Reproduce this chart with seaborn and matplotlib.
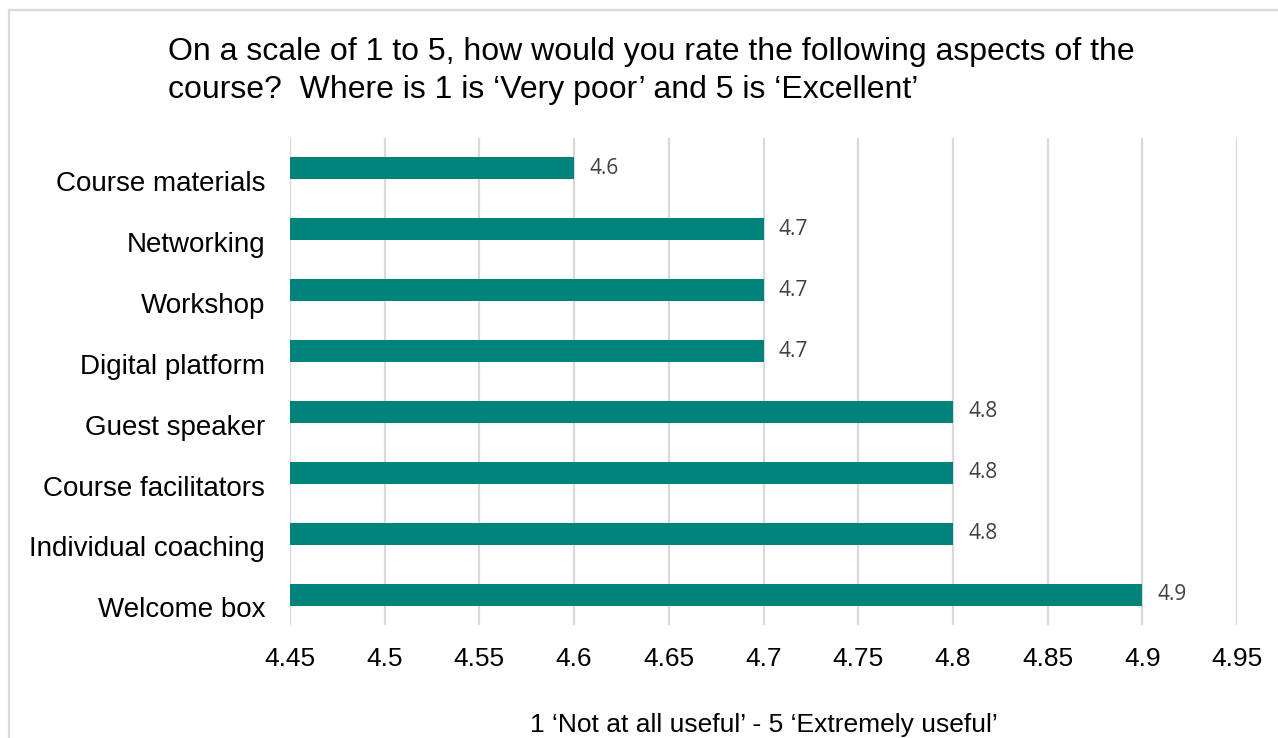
import matplotlib
matplotlib.use("Agg")
import matplotlib.pyplot as plt
import matplotlib.patches as mpatches
import seaborn as sns
import pandas as pd

# Survey ratings per course aspect
aspects = ["Course materials", "Networking", "Workshop", "Digital platform",
           "Guest speaker", "Course facilitators", "Individual coaching", "Welcome box"]
ratings = [4.6, 4.7, 4.7, 4.7, 4.8, 4.8, 4.8, 4.9]
x_ticks = [4.45, 4.5, 4.55, 4.6, 4.65, 4.7, 4.75, 4.8, 4.85, 4.9, 4.95]
x_tick_labels = ["4.45", "4.5", "4.55", "4.6", "4.65", "4.7", "4.75", "4.8", "4.85", "4.9", "4.95"]

title = ("On a scale of 1 to 5, how would you rate the following aspects of the\n"
         "course?  Where is 1 is \u2018Very poor\u2019 and 5 is \u2018Excellent\u2019")
x_label = "1 \u2018Not at all useful\u2019 - 5 \u2018Extremely useful\u2019"

df = pd.DataFrame({"aspect": aspects, "rating": ratings})

sns.set_theme(style="white")
plt.rcParams["font.family"] = ["Liberation Sans", "DejaVu Sans"]

BAR = "#00837B"
GRID = "#D9D9D9"

fig = plt.figure(figsize=(12.78, 7.38), dpi=100)
ax = fig.add_axes([290 / 1278, 1 - 625 / 738, (1237 - 290) / 1278, (625 - 138) / 738])

sns.barplot(data=df, x="rating", y="aspect", orient="h", color=BAR,
            width=0.36, ax=ax, saturation=1, edgecolor="none")

ax.set_xlim(4.45, 4.95)
ax.set_ylim(len(aspects) - 0.5, -0.5)
ax.set_xticks(x_ticks)
ax.set_xticklabels(x_tick_labels, fontsize=19, color="#000000")
# category labels sit a little below the bar centres
ax.set_yticks([i + 0.21 for i in range(len(aspects))])
ax.set_yticklabels(aspects, fontsize=20, color="#000000")
ax.tick_params(axis="both", length=0)
ax.tick_params(axis="x", pad=16)
ax.tick_params(axis="y", pad=18)
ax.set_xlabel(x_label, fontsize=19, labelpad=30, color="#000000")
ax.set_ylabel("")

for s in ax.spines.values():
    s.set_visible(False)
ax.set_axisbelow(True)
for xv in x_ticks:
    ax.axvline(xv, color=GRID, lw=1.6, zorder=0)

for i, v in enumerate(ratings):
    ax.text(v + 0.008, i, f"{v:.1f}", va="center", ha="left",
            fontsize=15, color="#404040", family=["Open Sans", "DejaVu Sans"])

fig.text(168 / 1278, 1 - 37 / 738, title, ha="left", va="top",
         fontsize=23, color="#000000", linespacing=1.33)

# outer frame
frame = mpatches.Rectangle((9 / 1278, -0.05), 1.1, 1 - 10 / 738 + 0.05,
                           transform=fig.transFigure, fill=False,
                           edgecolor=GRID, lw=1.6, zorder=-1)
fig.patches.append(frame)

fig.savefig("out.png", dpi=100, facecolor="white")
